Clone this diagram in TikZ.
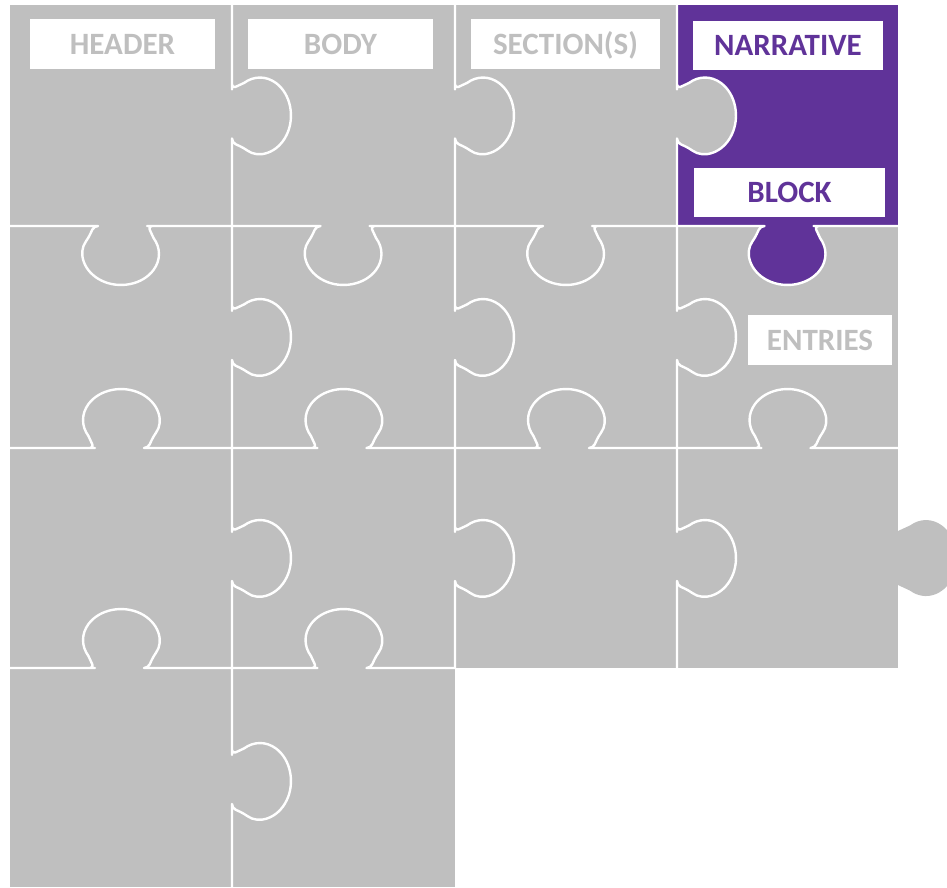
\documentclass[tikz,border=0pt]{standalone}
\usepackage{fontspec}
\setmainfont{Carlito}
\definecolor{pgray}{RGB}{191,191,191}
\definecolor{ppurple}{RGB}{96,51,153}
\tikzset{
  cut/.style={draw=white, line width=2.4pt, line cap=round, line join=round},
  lab/.style={fill=white, inner sep=0pt, minimum height=50pt, text height=20pt, text depth=0pt,
    font=\fontsize{31}{31}\selectfont\bfseries},
  graylab/.style={lab, text=pgray},
  purplelab/.style={lab, text=ppurple}
}
% white cut line with a knob: centre x, centre y, rotation, back extent, forward extent
\newcommand\cutseg[5]{%
  \begin{scope}[shift={(#1,#2)},rotate=#3]
    \draw[cut] (-#4,0) -- (-24,0) [rounded corners=4pt] -- (-27,0) -- (-32.6,12) [sharp corners]
      arc[start angle=211, end angle=-31, x radius=38, y radius=31]
      [rounded corners=4pt] -- (27,0) -- (30,0) [sharp corners] -- (#5,0);
  \end{scope}}
% filled knob shape
\newcommand\knobfill[4]{%
  \begin{scope}[shift={(#1,#2)},rotate=#3]
    \fill[#4] (-27,-3) -- (-27,0) -- (-32.6,12)
      arc[start angle=211, end angle=-31, x radius=38, y radius=31]
      -- (27,0) -- (27,-3) -- cycle;
  \end{scope}}
\begin{document}
\begin{tikzpicture}[x=1pt,y=-1pt]
  \useasboundingbox (0,0) rectangle (947,887);
  \clip (0,0) rectangle (947,887);
  % gray base
  \fill[pgray] (10,5) rectangle (898,668);
  \fill[pgray] (10,668) rectangle (455,887);
  \knobfill{898}{558}{90}{pgray}
  % purple piece
  \fill[ppurple] (677,5) rectangle (898,226);
  \knobfill{787.5}{226}{0}{ppurple}
  \knobfill{677}{115.5}{90}{pgray}
  % horizontal cuts
  \cutseg{121}{226}{0}{111}{111}
  \cutseg{343.5}{226}{0}{111.5}{111.5}
  \cutseg{566}{226}{0}{111}{111}
  \cutseg{787.5}{226}{0}{110.5}{110.5}
  \cutseg{121}{448}{180}{111}{111}
  \cutseg{343.5}{448}{180}{111.5}{111.5}
  \cutseg{566}{448}{180}{111}{111}
  \cutseg{787.5}{448}{180}{110.5}{110.5}
  \cutseg{121}{668}{180}{111}{111}
  \cutseg{343.5}{668}{180}{111.5}{111.5}
  % vertical cuts
  \cutseg{232}{115.5}{90}{110.5}{110.5}
  \cutseg{232}{337}{90}{111}{111}
  \cutseg{232}{558}{90}{110}{110}
  \cutseg{232}{781}{90}{106}{113}
  \cutseg{455}{115.5}{90}{110.5}{110.5}
  \cutseg{455}{337}{90}{111}{111}
  \cutseg{455}{558}{90}{110}{110}
  \cutseg{677}{115.5}{90}{110.5}{110.5}
  \cutseg{677}{337}{90}{111}{111}
  \cutseg{677}{558}{90}{110}{110}
  % labels
  \node[graylab, minimum width=185pt] (header) at (122.5,44) {HEADER};
  \node[graylab, minimum width=185pt] (body) at (340.5,44) {BODY};
  \node[graylab, minimum width=189pt] (sections) at (565.5,44) {SECTION(S)};
  \node[purplelab, minimum width=190pt, minimum height=49pt] (narrative) at (788,45.5) {NARRATIVE};
  \node[purplelab, minimum width=191pt, minimum height=49pt] (block) at (789.5,192.5) {BLOCK};
  \node[graylab, minimum width=144pt] (entries) at (820,340) {ENTRIES};
\end{tikzpicture}
\end{document}
